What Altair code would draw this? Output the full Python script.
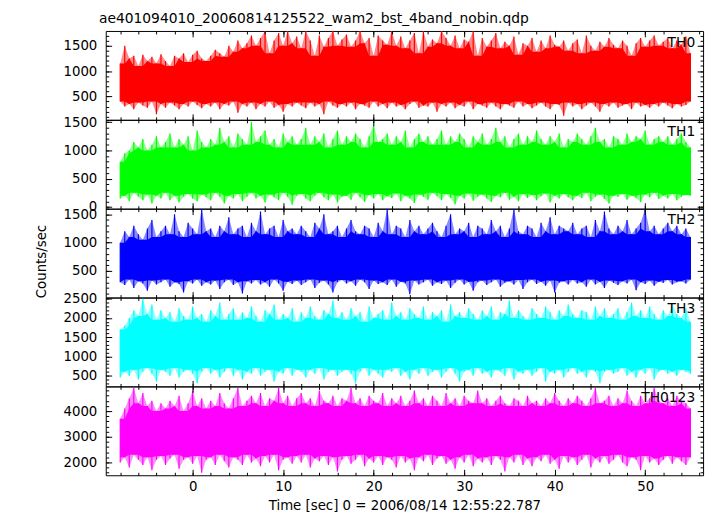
import altair as alt
import pandas as pd

TITLE = "ae401094010_20060814125522_wam2_bst_4band_nobin.qdp"
X_TITLE = "Time [sec] 0 = 2006/08/14 12:55:22.787"
Y_TITLE = "Counts/sec"
FONT = "DejaVu Sans"

# time grid of the binned envelope (start, step in sec)
T_START = -8.0
T_STEP = 0.5

names = ["TH0", "TH1", "TH2", "TH3", "TH0123"]
colors = ["#ff0000", "#00ff00", "#0000ff", "#00ffff", "#ff00ff"]

# upper / lower envelope of each light curve
th0_hi = [1150, 1500, 1250, 1300, 1100, 1320, 1200, 1280, 1150, 1330,
          1200, 1100, 1300, 1250, 1350, 1180, 1320, 1400, 1250, 1200,
          1300, 1420, 1350, 1280, 1500, 1380, 1600, 1450, 1550, 1700,
          1500, 1650, 1790, 1350, 1600, 1750, 1500, 1790, 1550, 1680,
          1450, 1790, 1600, 1300, 1700, 1480, 1650, 1790, 1500, 1620,
          1720, 1480, 1600, 1790, 1550, 1650, 1300, 1700, 1600, 1520,
          1790, 1500, 1680, 1450, 1600, 1750, 1350, 1790, 1480, 1620,
          1550, 1790, 1650, 1500, 1700, 1450, 1620, 1580, 1790, 1300,
          1650, 1480, 1600, 1750, 1450, 1580, 1500, 1680, 1320, 1550,
          1500, 1650, 1380, 1600, 1450, 1700, 1520, 1480, 1600, 1400,
          1550, 1620, 1350, 1700, 1500, 1400, 1580, 1480, 1650, 1520,
          1450, 1600, 1500, 1300, 1550, 1650, 1480, 1600, 1700, 1500,
          1580, 1650, 1450, 1600, 1520, 1680, 1350]
th0_lo = [400, 300, 350, 250, 380, 320, 280, 400, 150, 350,
          280, 380, 320, 250, 350, 300, 400, 330, 270, 350,
          300, 380, 250, 350, 320, 400, 180, 350, 300, 380,
          250, 350, 300, 400, 280, 330, 200, 350, 300, 380,
          320, 270, 380, 300, 350, 150, 400, 320, 280, 350,
          300, 380, 250, 350, 320, 280, 400, 300, 350, 270,
          380, 300, 330, 250, 350, 400, 280, 320, 300, 380,
          200, 350, 300, 380, 270, 330, 300, 400, 250, 350,
          320, 280, 380, 300, 250, 350, 320, 280, 400, 300,
          350, 270, 320, 380, 300, 250, 350, 330, 120, 380,
          300, 350, 250, 320, 380, 300, 200, 350, 300, 380,
          280, 320, 350, 250, 380, 300, 330, 280, 350, 300,
          380, 320, 270, 350, 300, 330, 400]

th1_hi = [800, 950, 1000, 1150, 1050, 1200, 1000, 1100, 1250, 1050,
          1150, 1300, 1050, 1200, 1100, 1250, 1000, 1350, 1150, 1050,
          1200, 1100, 1400, 1150, 1250, 1050, 1300, 1200, 1100, 1500,
          1150, 1250, 1350, 1100, 1200, 1050, 1300, 1150, 1250, 1100,
          1200, 1400, 1100, 1250, 1150, 1300, 1050, 1200, 1350, 1100,
          1250, 1150, 1300, 1200, 1050, 1250, 1450, 1150, 1200, 1300,
          1100, 1250, 1150, 1350, 1050, 1200, 1300, 1150, 1250, 1100,
          1200, 1350, 1100, 1250, 1150, 1300, 1200, 1050, 1250, 1150,
          1300, 1100, 1200, 1400, 1150, 1250, 1050, 1200, 1300, 1100,
          1250, 1150, 1350, 1200, 1100, 1250, 1150, 1300, 1050, 1200,
          1150, 1300, 1200, 1100, 1250, 1400, 1150, 1200, 1050, 1250,
          1200, 1100, 1300, 1150, 1250, 1200, 1350, 1100, 1200, 1250,
          1150, 1250, 1100, 1200, 1300, 1150, 1050]
th1_lo = [150, 200, 100, 250, 180, 120, 220, 60, 200, 150,
          250, 120, 200, 80, 180, 230, 150, 100, 220, 170,
          120, 250, 180, 60, 200, 150, 230, 100, 180, 250,
          150, 200, 80, 220, 170, 120, 250, 180, 40, 200,
          230, 150, 100, 200, 250, 170, 120, 220, 80, 180,
          200, 130, 250, 170, 90, 210, 150, 230, 120, 190,
          160, 240, 100, 200, 150, 70, 220, 180, 130, 250,
          190, 120, 230, 160, 50, 200, 150, 240, 110, 180,
          220, 150, 90, 200, 170, 250, 130, 180, 100, 230,
          160, 210, 120, 190, 240, 80, 200, 150, 230, 170,
          120, 200, 160, 250, 100, 180, 220, 140, 60, 200,
          180, 230, 130, 200, 160, 90, 220, 170, 250, 140,
          200, 150, 230, 120, 180, 210, 200]

th2_hi = [1000, 1200, 1100, 1300, 1150, 1050, 1250, 1400, 1100, 1200,
          1300, 1150, 1500, 1200, 1100, 1350, 1250, 1150, 1600, 1200,
          1250, 1100, 1300, 1200, 1450, 1150, 1250, 1300, 1100, 1350,
          1200, 1550, 1150, 1250, 1300, 1100, 1400, 1200, 1250, 1150,
          1300, 1200, 1100, 1350, 1250, 1500, 1150, 1200, 1300, 1100,
          1250, 1400, 1200, 1150, 1300, 1250, 1100, 1350, 1200, 1600,
          1150, 1300, 1250, 1100, 1400, 1200, 1300, 1150, 1250, 1350,
          1200, 1100, 1300, 1500, 1150, 1250, 1200, 1350, 1100, 1300,
          1250, 1150, 1400, 1200, 1300, 1100, 1250, 1600, 1200, 1150,
          1300, 1250, 1100, 1350, 1200, 1450, 1150, 1300, 1250, 1200,
          1350, 1150, 1250, 1300, 1100, 1400, 1200, 1550, 1250, 1150,
          1300, 1200, 1400, 1150, 1250, 1350, 1600, 1200, 1300, 1150,
          1250, 1350, 1200, 1300, 1150, 1250, 1100]
th2_lo = [300, 250, 350, 200, 320, 280, 150, 330, 260, 300,
          350, 220, 300, 270, 120, 320, 280, 350, 240, 300,
          260, 330, 180, 300, 350, 250, 300, 100, 320, 280,
          340, 260, 300, 220, 350, 280, 150, 310, 270, 330,
          250, 300, 350, 200, 290, 330, 260, 120, 300, 340,
          280, 320, 240, 350, 300, 180, 330, 270, 300, 250,
          350, 220, 310, 280, 90, 330, 260, 300, 350, 240,
          300, 270, 330, 200, 290, 350, 260, 310, 150, 300,
          330, 250, 300, 350, 220, 290, 320, 260, 340, 180,
          300, 350, 270, 310, 240, 330, 120, 290, 320, 260,
          340, 280, 300, 220, 350, 260, 310, 200, 330, 290,
          250, 320, 280, 350, 160, 300, 270, 330, 240, 310,
          290, 340, 260, 300, 320, 280, 350]

th3_hi = [1700, 1800, 2000, 2200, 2050, 2500, 2100, 2350, 1950, 2200,
          2000, 2150, 1900, 2250, 2050, 1950, 2300, 2000, 2100, 1900,
          2200, 2050, 2400, 1950, 2100, 2250, 1950, 2150, 2000, 2300,
          2050, 1900, 2200, 2100, 2350, 1950, 2100, 2000, 2250, 1900,
          2150, 2000, 2300, 2050, 1950, 2200, 2100, 2450, 2000, 2150,
          1950, 2250, 2050, 2150, 1900, 2300, 2000, 2100, 2200, 1950,
          2400, 2050, 2150, 1950, 2250, 2100, 2000, 2300, 1950, 2150,
          2050, 2200, 1900, 2350, 2050, 2150, 2000, 2250, 2100, 1950,
          2200, 2050, 2300, 1950, 2150, 2100, 2450, 2000, 2200, 2050,
          1950, 2250, 2100, 2000, 2300, 2150, 1950, 2200, 2050, 2350,
          2100, 2000, 2200, 2150, 1950, 2300, 2050, 2250, 2000, 2100,
          2250, 1950, 2150, 2400, 2050, 2200, 2000, 2300, 2100, 1950,
          2200, 2050, 2350, 2100, 2000, 2250, 1900]
th3_lo = [450, 600, 500, 650, 400, 600, 700, 550, 350, 650,
          600, 500, 700, 450, 600, 650, 550, 300, 600, 700,
          550, 650, 450, 600, 700, 500, 650, 400, 600, 550,
          700, 500, 600, 650, 350, 600, 550, 700, 500, 650,
          600, 450, 650, 550, 700, 400, 600, 650, 500, 600,
          650, 550, 300, 600, 700, 500, 650, 550, 450, 650,
          600, 700, 500, 600, 400, 650, 550, 700, 500, 600,
          650, 450, 600, 700, 550, 350, 600, 650, 500, 700,
          550, 600, 450, 650, 600, 500, 700, 400, 600, 550,
          650, 500, 600, 700, 350, 600, 550, 650, 450, 600,
          700, 550, 600, 450, 650, 600, 300, 600, 650, 550,
          600, 700, 500, 600, 450, 650, 550, 700, 400, 600,
          650, 550, 600, 500, 650, 600, 550]

th0123_hi = [3700, 4100, 4500, 4900, 4300, 4700, 4200, 4400, 4000, 4300,
             4100, 4400, 4200, 4600, 4000, 4300, 4800, 4200, 4500, 4100,
             4400, 4200, 4700, 4300, 4100, 4500, 4900, 4200, 4400, 4600,
             4300, 4700, 4200, 4500, 4400, 4900, 4300, 4600, 4200, 4500,
             4700, 4300, 4500, 4200, 4800, 4400, 4300, 4600, 4200, 4500,
             4400, 4900, 4300, 4500, 4200, 4600, 4400, 4300, 4700, 4200,
             4500, 4300, 4600, 4200, 4400, 4800, 4300, 4500, 4200, 4600,
             4400, 4200, 4700, 4300, 4500, 4200, 4600, 4400, 4300, 4800,
             4300, 4500, 4200, 4400, 4600, 4300, 4200, 4500, 4400, 4200,
             4600, 4300, 4400, 4200, 4500, 4300, 4700, 4400, 4200, 4500,
             4300, 4600, 4400, 4200, 4500, 4900, 4300, 4400, 4600, 4200,
             4500, 4300, 4800, 4400, 4200, 4600, 4300, 4500, 4900, 4400,
             4300, 4500, 4200, 4600, 4400, 4300, 4100]
th0123_lo = [2000, 2200, 1800, 2300, 2100, 1900, 2200, 1700, 2100, 2250,
             1900, 2150, 2300, 1750, 2100, 2200, 1950, 2250, 1600, 2100,
             2200, 1900, 2300, 2050, 1800, 2200, 2100, 1900, 2300, 2000,
             2150, 1850, 2250, 2000, 2300, 1700, 2100, 2200, 1950, 2250,
             2000, 2300, 1800, 2150, 2050, 2250, 1900, 2200, 1650, 2100,
             2250, 1950, 2100, 2300, 1850, 2150, 2000, 2250, 1900, 2200,
             2100, 1800, 2250, 2000, 2150, 1700, 2200, 2050, 2300, 1900,
             2150, 2250, 1950, 2100, 1750, 2200, 2000, 2300, 1850, 2150,
             2000, 2200, 1900, 2250, 2100, 1650, 2200, 2000, 2300, 1900,
             2150, 1850, 2200, 2050, 2300, 1950, 2100, 1750, 2250, 2000,
             2200, 1900, 2100, 2300, 1800, 2150, 2000, 2250, 1950, 2100,
             2300, 2000, 1850, 2200, 2100, 1700, 2250, 2000, 2150, 1900,
             2100, 2250, 1950, 2200, 2050, 1900, 2200]

his = [th0_hi, th1_hi, th2_hi, th3_hi, th0123_hi]
los = [th0_lo, th1_lo, th2_lo, th3_lo, th0123_lo]

x_domain = [-9.6, 56.4]
x_major = [0, 10, 20, 30, 40, 50]
x_minor = list(range(-8, 57, 2))

y_domains = [[40, 1790], [-30, 1540], [30, 1600], [220, 2530], [1500, 4960]]
y_major = [[500, 1000, 1500], [0, 500, 1000, 1500], [500, 1000, 1500],
           [500, 1000, 1500, 2000, 2500], [2000, 3000, 4000]]
y_minor = [list(range(100, 1800, 100)), list(range(0, 1600, 100)),
           list(range(100, 1700, 100)), list(range(300, 2600, 100)),
           list(range(1600, 5000, 200))]

W, H = 605, 90
MAJ, MIN = 6, 3


def tick_axis(orient, values, size, offset):
    return alt.Axis(orient=orient, values=values, tickSize=size, offset=offset,
                    labels=False, domain=False, grid=False, title=None, zindex=2)


def panel(i):
    hi, lo = his[i], los[i]
    times = [T_START + T_STEP * k for k in range(len(hi))]
    df = pd.DataFrame({"t": times, "hi": hi, "lo": lo})
    xs = alt.Scale(domain=x_domain, nice=False, zero=False)
    ys = alt.Scale(domain=y_domains[i], nice=False, zero=False)
    base = alt.Chart(df)

    main_y = alt.Axis(orient="left", values=y_major[i], format="d", ticks=False,
                      domain=False, grid=False, labelPadding=9, labelOverlap=False,
                      labelFlush=False, title=Y_TITLE if i == 2 else None,
                      titlePadding=15, titleY=H / 2 + 8)
    # light envelope (outer spikes)
    env = base.mark_area(color=colors[i], opacity=0.45, clip=True).encode(
        x=alt.X("t:Q", scale=xs, axis=tick_axis("top", x_major, MAJ, -H)),
        y=alt.Y("hi:Q", scale=ys, axis=main_y),
        y2="lo:Q",
    )
    # thin full-colour spikes, one per bin
    spikes = base.mark_rule(color=colors[i], strokeWidth=1.2, clip=True).encode(
        x=alt.X("t:Q", scale=xs, axis=tick_axis("top", x_minor, MIN, -H)),
        y=alt.Y("hi:Q", scale=ys, axis=tick_axis("right", y_major[i], MAJ, -W)),
        y2="lo:Q",
    )
    # dense core: the inner envelope over neighbouring bins
    core = base.transform_window(
        core_hi="min(hi)", core_lo="max(lo)", frame=[-1, 1],
        sort=[alt.SortField("t")]
    ).mark_area(color=colors[i], opacity=1, clip=True).encode(
        x=alt.X("t:Q", scale=xs, axis=tick_axis("bottom", x_major, MAJ, -H)),
        y=alt.Y("core_hi:Q", scale=ys, axis=tick_axis("right", y_minor[i], MIN, -W)),
        y2="core_lo:Q",
    )
    inv = base.mark_point(opacity=0, size=1)
    l4 = inv.encode(
        x=alt.X("t:Q", scale=xs, axis=tick_axis("bottom", x_minor, MIN, -H)),
        y=alt.Y("hi:Q", scale=ys, axis=tick_axis("left", y_major[i], MAJ, -W)),
    )
    if i == len(names) - 1:
        bottom_x = alt.Axis(orient="bottom", values=x_major, format="d", ticks=False,
                            domain=False, grid=False, labelPadding=4, labelFlush=False,
                            labelOverlap=False, title=X_TITLE, titlePadding=6)
    else:
        bottom_x = None
    l5 = inv.encode(
        x=alt.X("t:Q", scale=xs, axis=bottom_x),
        y=alt.Y("hi:Q", scale=ys, axis=tick_axis("left", y_minor[i], MIN, -W)),
    )
    label = alt.Chart(pd.DataFrame({"label": [names[i]]})).mark_text(
        align="right", baseline="alphabetic", font=FONT, fontSize=14, color="black"
    ).encode(x=alt.value(W - 8), y=alt.value(16), text="label:N")

    return alt.layer(env, spikes, core, l4, l5, label).resolve_scale(
        x="shared", y="shared"
    ).resolve_axis(x="independent", y="independent").properties(width=W, height=H)


chart = alt.vconcat(*[panel(i) for i in range(len(names))], spacing=0,
                    bounds="flush").properties(
    title=alt.TitleParams(TITLE, anchor="start", font=FONT, fontSize=14,
                          fontWeight="normal", color="black", offset=4, dx=66),
    padding={"left": 26, "top": 1, "right": 5, "bottom": 0},
).configure_view(stroke="black", strokeWidth=1).configure_axis(
    tickColor="black", tickWidth=1, labelColor="black", labelFont=FONT,
    labelFontSize=13.5, titleFont=FONT, titleFontSize=13.5, titleFontWeight="normal",
    titleColor="black",
).configure_title(anchor="start")

chart.save("out.html", embed_options={"renderer": "svg", "actions": False})
